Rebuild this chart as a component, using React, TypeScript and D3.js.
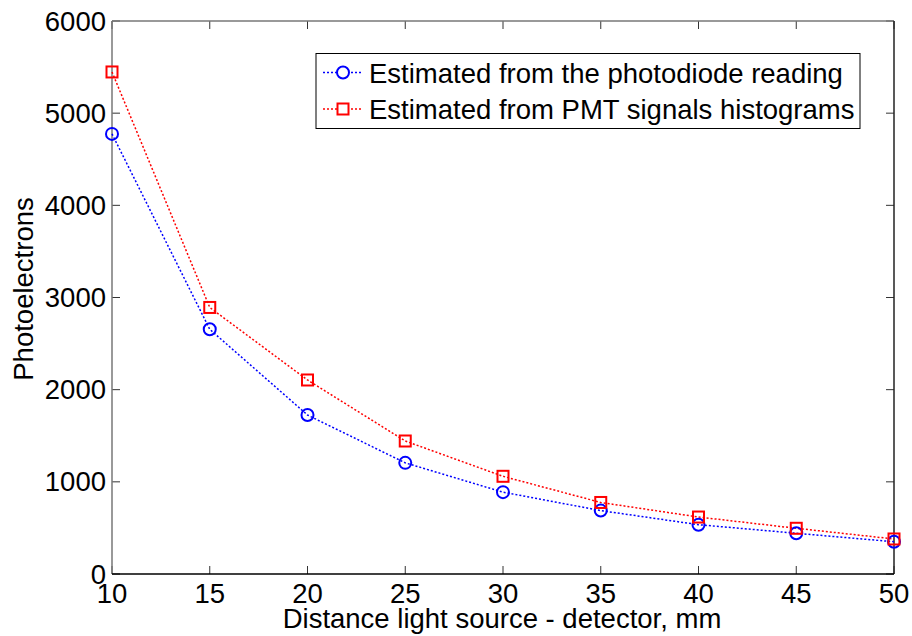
import React from "react";
import * as d3 from "d3";

const distances = [10, 15, 20, 25, 30, 35, 40, 45, 50];
const photodiode = [4775, 2655, 1725, 1206, 888, 688, 535, 442, 350];
const pmt = [5447, 2892, 2105, 1443, 1060, 776, 618, 496, 380];
const xTicks = [10, 15, 20, 25, 30, 35, 40, 45, 50];
const yTicks = [0, 1000, 2000, 3000, 4000, 5000, 6000];
const seriesNames = [
  "Estimated from the photodiode reading",
  "Estimated from PMT signals histograms",
];

const W = 912;
const H = 636;
const L = 112, R = 894, T = 21, B = 574;
const FONT = "'Liberation Sans', Arial, sans-serif";
const FS = 27.5;

export default function App() {
  const x = d3.scaleLinear().domain([10, 50]).range([L, R]);
  const y = d3.scaleLinear().domain([0, 6000]).range([B, T]);
  const line = d3
    .line<number>()
    .x((_, i) => x(distances[i]))
    .y((d) => y(d));
  const blue = "#0000ff";
  const red = "#ff0000";
  const dash = "2,2";
  return (
    <svg
      width={W}
      height={H}
      style={{ position: "absolute", left: 0, top: 0, background: "#fff" }}
      fontFamily={FONT}
    >
      <rect x={0} y={0} width={W} height={H} fill="#fff" />
      {/* ticks */}
      {xTicks.map((t) => (
        <g key={"xt" + t}>
          <line x1={x(t)} x2={x(t)} y1={B} y2={B - 8} stroke="#333" strokeWidth={1} />
          <line x1={x(t)} x2={x(t)} y1={T} y2={T + 8} stroke="#333" strokeWidth={1} />
          <text x={x(t)} y={603} fontSize={FS} textAnchor="middle" fill="#000">
            {t}
          </text>
        </g>
      ))}
      {yTicks.map((t) => (
        <g key={"yt" + t}>
          <line x1={L} x2={L + 8} y1={y(t)} y2={y(t)} stroke="#333" strokeWidth={1} />
          <line x1={R} x2={R - 8} y1={y(t)} y2={y(t)} stroke="#333" strokeWidth={1} />
          <text x={106} y={y(t) + 9.5} fontSize={FS} textAnchor="end" fill="#000">
            {t}
          </text>
        </g>
      ))}
      {/* axes box */}
      <line x1={L} x2={L} y1={T} y2={B} stroke="#777" strokeWidth={1.5} />
      <line x1={L} x2={R} y1={T} y2={T} stroke="#777" strokeWidth={1.5} />
      <line x1={R} x2={R} y1={T} y2={B} stroke="#222" strokeWidth={1.5} />
      <line x1={L} x2={R} y1={B} y2={B} stroke="#000" strokeWidth={1.5} />

      {/* series */}
      <path d={line(photodiode) || ""} fill="none" stroke={blue} strokeWidth={1.5} strokeDasharray={dash} />
      <path d={line(pmt) || ""} fill="none" stroke={red} strokeWidth={1.5} strokeDasharray={dash} />
      {photodiode.map((v, i) => (
        <circle key={"c" + i} cx={x(distances[i])} cy={y(v)} r={6} fill="none" stroke={blue} strokeWidth={2} />
      ))}
      {pmt.map((v, i) => (
        <rect
          key={"s" + i}
          x={x(distances[i]) - 5.5}
          y={y(v) - 5.5}
          width={11}
          height={11}
          fill="none"
          stroke={red}
          strokeWidth={2}
        />
      ))}

      {/* legend */}
      <rect x={316} y={53.5} width={544} height={75} fill="#fff" stroke="#000" strokeWidth={1} />
      <line x1={323} x2={362} y1={72.5} y2={72.5} stroke={blue} strokeWidth={1.5} strokeDasharray={dash} />
      <circle cx={343} cy={72.5} r={6} fill="#fff" stroke={blue} strokeWidth={2} />
      <text x={369} y={83} fontSize={FS} fill="#000">{seriesNames[0]}</text>
      <line x1={323} x2={362} y1={109} y2={109} stroke={red} strokeWidth={1.5} strokeDasharray={dash} />
      <rect x={337.5} y={103.5} width={11} height={11} fill="#fff" stroke={red} strokeWidth={2} />
      <text x={369} y={118.5} fontSize={FS} fill="#000">{seriesNames[1]}</text>

      {/* axis titles */}
      <text x={502} y={628} fontSize={FS} textAnchor="middle" fill="#000">
        Distance light source - detector, mm
      </text>
      <text
        transform={`translate(33, 289) rotate(-90)`}
        fontSize={FS}
        textAnchor="middle"
        fill="#000"
      >
        Photoelectrons
      </text>
    </svg>
  );
}
